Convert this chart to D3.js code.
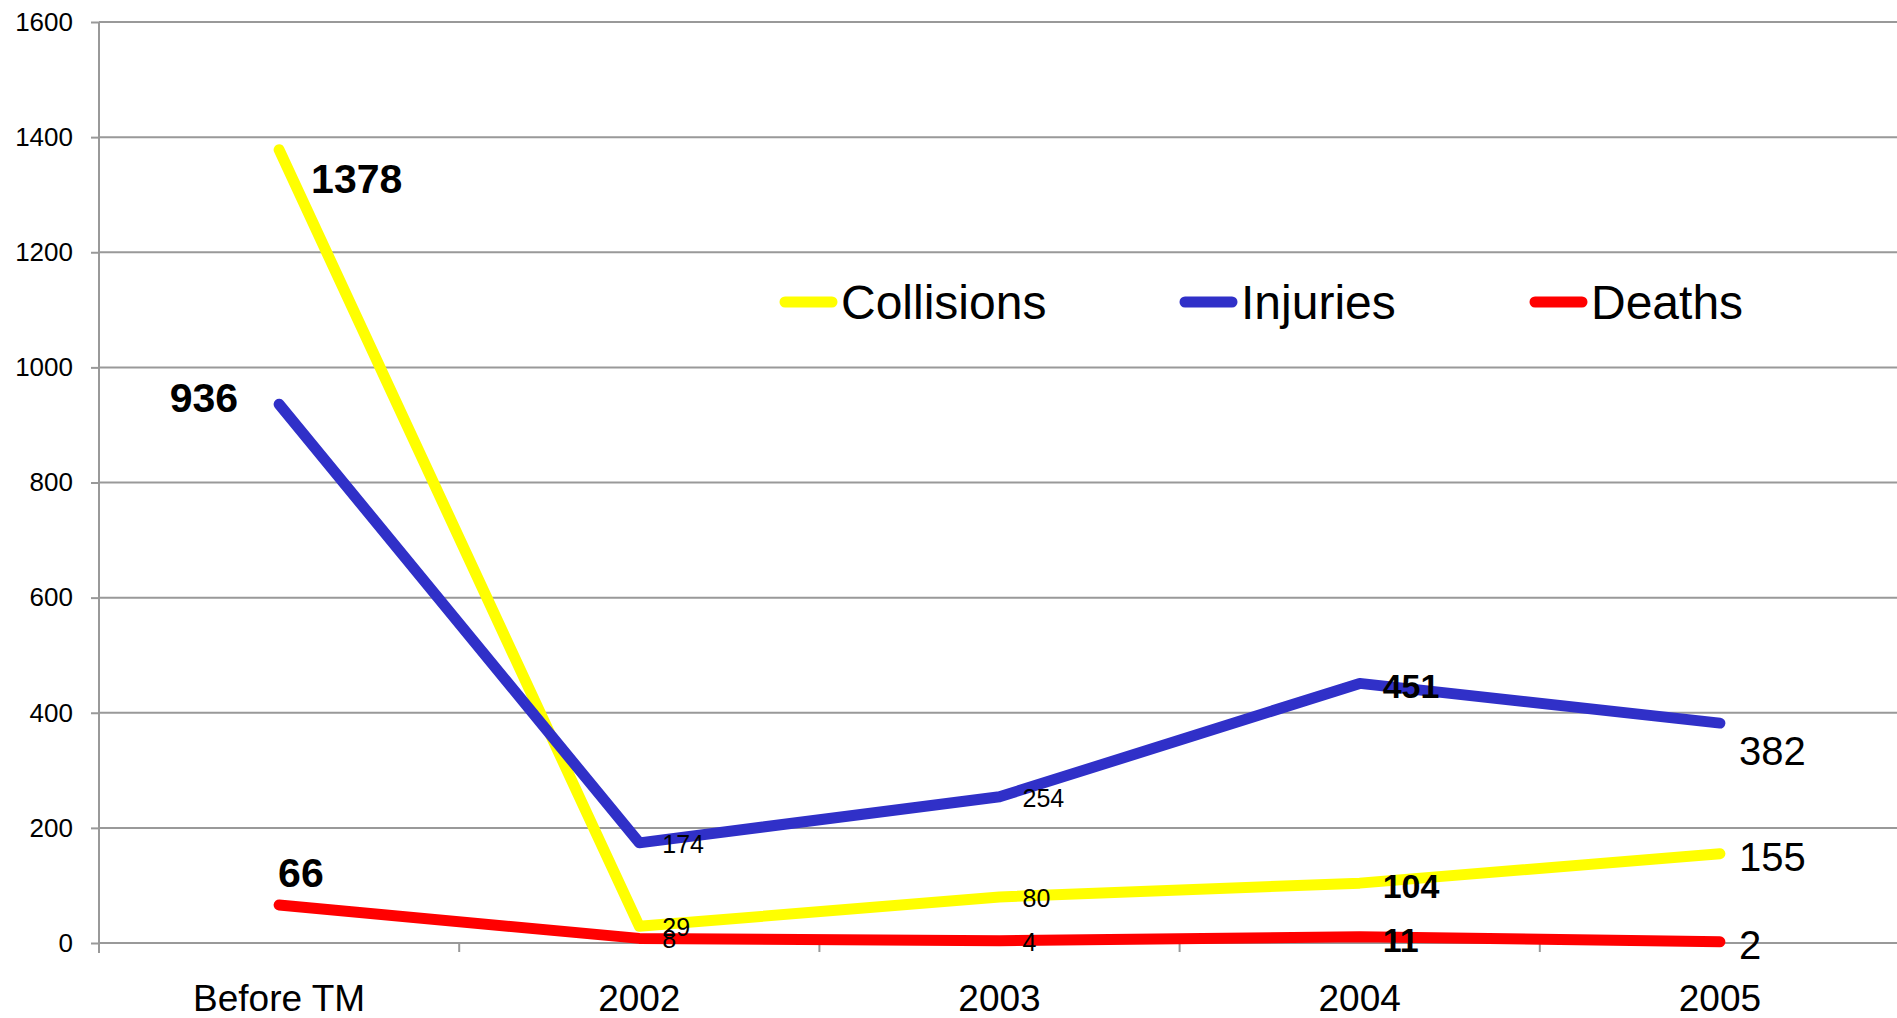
<!DOCTYPE html>
<head>
  <title>Collisions, Injuries, Deaths</title>
  <script src="https://d3js.org/d3.v7.min.js"></script>
  <style>
  body {margin: 0; background: white;}
  svg text {font-family: "Liberation Sans", Arial, sans-serif; fill: black;}
  .grid line {stroke: #999; stroke-width: 2px;}
  .axis path, .axis line {stroke: #999; stroke-width: 2px;}
  .axis text {font-size: 26px;}
  .xlab {font-size: 37px; text-anchor: middle;}
  .series {fill: none; stroke-width: 11px; stroke-linecap: round; stroke-linejoin: round;}
  .legend text {font-size: 48px;}
  </style>
</head>
<body>
  <svg id="chart" width="1897" height="1018"></svg>
  <script>
  var categories = ["Before TM", "2002", "2003", "2004", "2005"];
  var collisions = [1378, 29, 80, 104, 155];
  var injuries = [936, 174, 254, 451, 382];
  var deaths = [66, 8, 4, 11, 2];
  var seriesNames = ["Collisions", "Injuries", "Deaths"];
  var yTicks = [0, 200, 400, 600, 800, 1000, 1200, 1400, 1600];

  var colors = ["#ffff00", "#3030c8", "#ff0000"];
  var allSeries = [collisions, injuries, deaths];

  // label look per category (the original mixes sizes and weights)
  var labelStyle = [
    {size: 41, weight: "bold", dx: 32, dy: 43},
    {size: 25, weight: "normal", dx: 23, dy: 10},
    {size: 25, weight: "normal", dx: 23, dy: 10},
    {size: 34, weight: "bold", dx: 23, dy: 15},
    {size: 40, weight: "normal", dx: 19, dy: 17}
  ];

  var svg = d3.select("#chart");
  var plotLeft = 99, plotTop = 22, plotBottom = 943, plotRight = 1900;

  var x = d3.scaleBand().domain(categories).range([plotLeft, plotRight]);
  var y = d3.scaleLinear().domain([0, 1600]).range([plotBottom, plotTop]);

  // gridlines
  svg.append("g").attr("class", "grid")
    .selectAll("line").data(yTicks).enter().append("line")
    .attr("x1", plotLeft).attr("x2", 1897)
    .attr("y1", function(d) { return y(d); })
    .attr("y2", function(d) { return y(d); });

  // y axis
  var yAxis = d3.axisLeft(y).tickValues(yTicks).tickSize(8).tickPadding(18).tickFormat(d3.format("d"));
  var gy = svg.append("g").attr("class", "axis").attr("transform", "translate(" + plotLeft + ",0)").call(yAxis);
  gy.select(".domain").attr("d", "M0," + plotTop + "V" + (plotBottom + 10));

  // x axis separators
  var bounds = categories.map(function(c) { return x(c); }).concat([plotRight]);
  svg.append("g").attr("class", "axis")
    .selectAll("line").data(bounds).enter().append("line")
    .attr("x1", function(d) { return d; }).attr("x2", function(d) { return d; })
    .attr("y1", plotBottom).attr("y2", plotBottom + 9);

  svg.append("g").selectAll("text").data(categories).enter().append("text")
    .attr("class", "xlab")
    .attr("x", function(d) { return x(d) + x.bandwidth() / 2; })
    .attr("y", 1011)
    .text(function(d) { return d; });

  // lines
  var line = d3.line()
    .x(function(d, i) { return x(categories[i]) + x.bandwidth() / 2; })
    .y(function(d) { return y(d); });

  svg.append("g").selectAll("path").data(allSeries).enter().append("path")
    .attr("class", "series")
    .attr("stroke", function(d, i) { return colors[i]; })
    .attr("d", line);

  // data labels
  allSeries.forEach(function(vals, s) {
    svg.append("g").selectAll("text").data(vals).enter().append("text")
      .attr("x", function(d, i) {
        var st = labelStyle[i];
        if (i == 0 && s == 1) return x(categories[i]) + x.bandwidth() / 2 - 41;
        if (i == 0 && s == 2) return x(categories[i]) + x.bandwidth() / 2 - 1;
        return x(categories[i]) + x.bandwidth() / 2 + st.dx;
      })
      .attr("y", function(d, i) {
        var st = labelStyle[i];
        if (i == 0 && s == 1) return y(d) + 8;
        if (i == 0 && s == 2) return y(d) - 18;
        if (i == 4 && s == 1) return y(d) + 42;
        return y(d) + st.dy;
      })
      .attr("text-anchor", function(d, i) { return (i == 0 && s == 1) ? "end" : "start"; })
      .style("font-size", function(d, i) { return labelStyle[i].size + "px"; })
      .style("font-weight", function(d, i) { return labelStyle[i].weight; })
      .text(function(d) { return d; });
  });

  // legend
  var legendX = [780, 1180, 1530];
  var legend = svg.append("g").attr("class", "legend");
  seriesNames.forEach(function(name, i) {
    legend.append("line")
      .attr("x1", legendX[i] + 5).attr("x2", legendX[i] + 52)
      .attr("y1", 302).attr("y2", 302)
      .attr("stroke", colors[i]).attr("stroke-width", 11).attr("stroke-linecap", "round");
    legend.append("text")
      .attr("x", legendX[i] + 61).attr("y", 319)
      .text(name);
  });
  </script>
</body>
